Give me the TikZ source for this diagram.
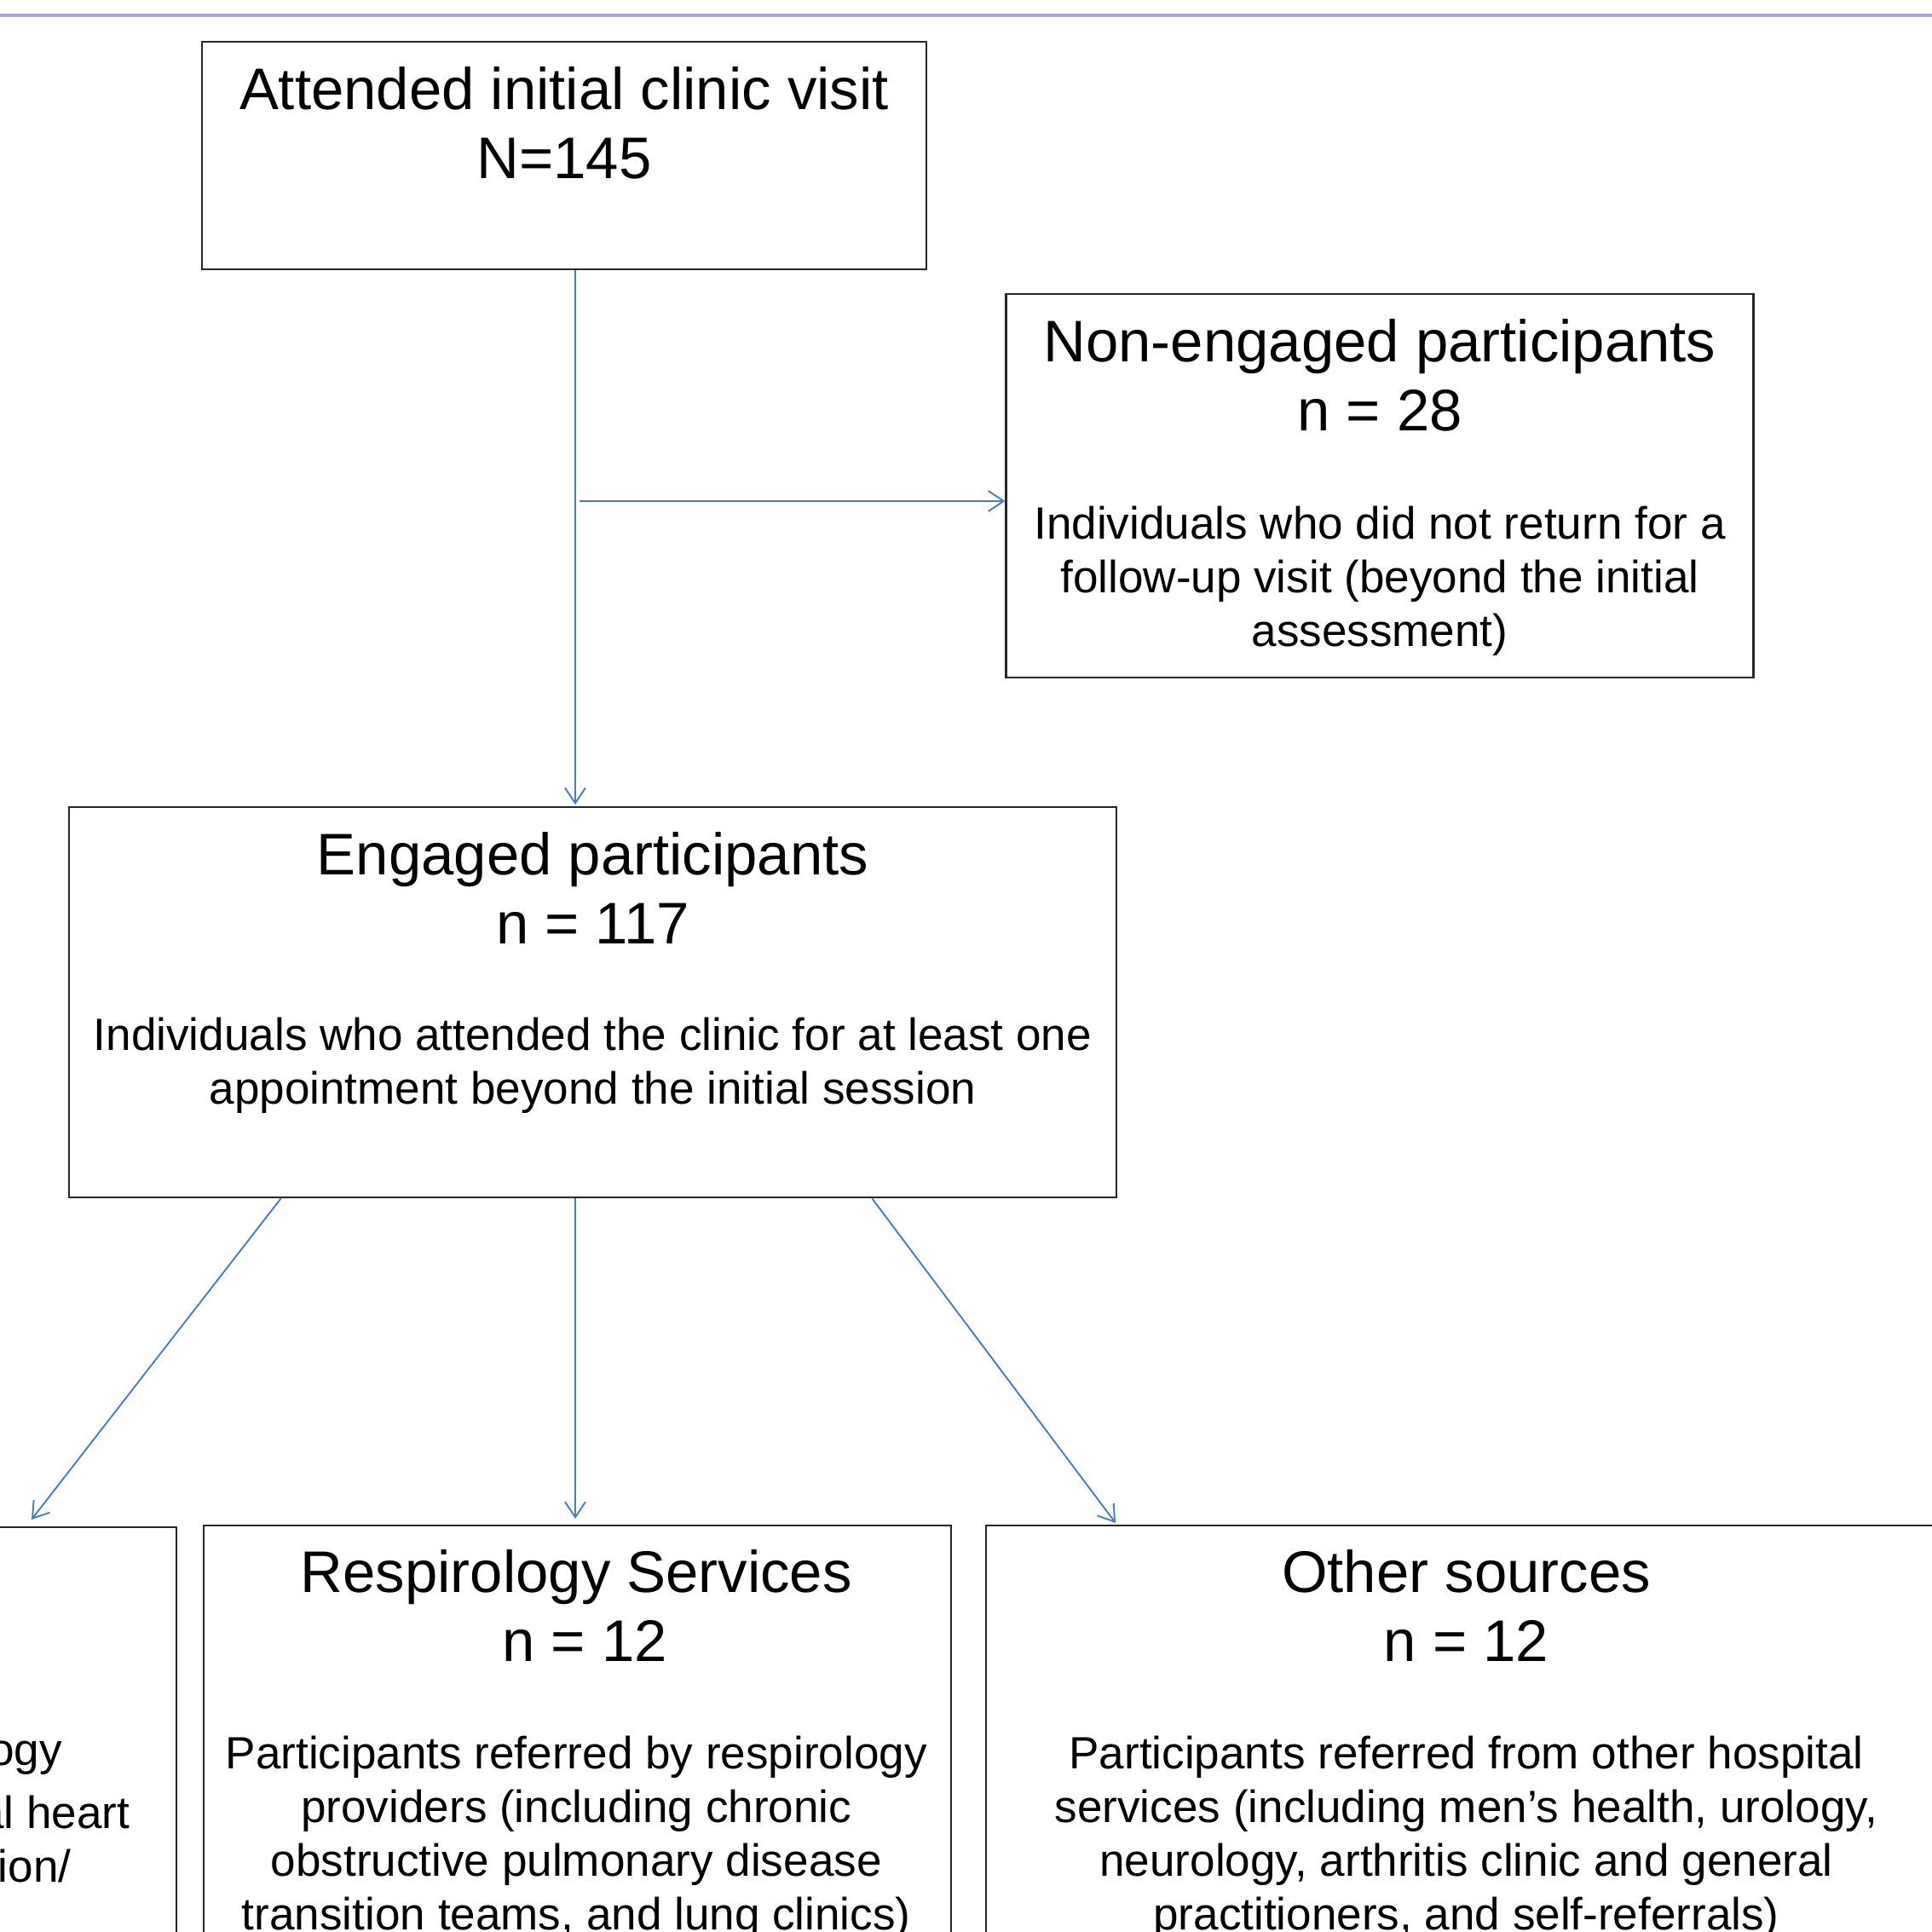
\documentclass[tikz,border=0pt]{standalone}
\usepackage{fontspec}
\setmainfont{Liberation Sans}
\usepackage{tikz}
\usetikzlibrary{positioning,arrows.meta,calc}
\definecolor{linkblue}{HTML}{4A7EBB}
\definecolor{rulepurple}{HTML}{B39DDB}

\begin{document}
\begin{tikzpicture}[
  box/.style={rectangle, draw=black!85, line width=0.6pt, inner sep=0pt},
  head/.style={align=center, inner sep=0pt, font=\fontsize{19.6}{23}\selectfont},
  body/.style={align=center, inner sep=0pt, font=\fontsize{15.1}{17.9}\selectfont},
  arrow/.style={-{Straight Barb[length=1.8mm,width=2.4mm]}, draw=linkblue, line width=0.55pt}
]
  \useasboundingbox (0,0) rectangle (22.67,-22.66);
  \clip (0,0) rectangle (22.67,-22.66);

  % rule at the top
  \draw[rulepurple, line width=0.9pt] (0,-0.18) -- (22.67,-0.18);

  % Boxes
  \node[box, minimum width=8.50cm, minimum height=2.67cm] (visit) at (6.623,-1.827) {};
  \node[box, minimum width=8.77cm, minimum height=4.50cm] (nonengaged) at (16.19,-5.697) {};
  \node[box, minimum width=12.29cm, minimum height=4.58cm] (engaged) at (6.955,-11.762) {};
  \node[box, anchor=north east, minimum width=8.77cm, minimum height=7cm] (cardio) at (2.083,-17.907) {};
  \node[box, anchor=north west, minimum width=8.77cm, minimum height=7cm] (respiro) at (2.377,-17.89) {};
  \node[box, anchor=north west, minimum width=11.28cm, minimum height=7cm] (other) at (11.563,-17.89) {};

  % Texts
  \node[head] (visitT) at (6.62,-1.445) {Attended initial clinic visit\\N=145};
  \node[head] (nonengT) at (16.19,-4.40) {Non-engaged participants\\n = 28};
  \node[body] (nonengB) at (16.19,-6.82) {Individuals who did not return for a\\follow-up visit (beyond the initial\\assessment)};
  \node[head] (engT) at (6.955,-10.42) {Engaged participants\\n = 117};
  \node[body] (engB) at (6.955,-12.505) {Individuals who attended the clinic for at least one\\appointment beyond the initial session};
  \node[body, anchor=east] (cardioA) at (0.737,-20.63) {ogy};
  \node[body, anchor=east] (cardioB) at (1.53,-21.26) {al heart};
  \node[body, anchor=east] (cardioC) at (0.84,-21.89) {ion/};
  \node[head] (respT) at (6.763,-18.84) {Respirology Services\\\hspace*{0.2cm}n = 12};
  \node[body] (respB) at (6.763,-21.56) {Participants referred by respirology\\providers (including chronic\\obstructive pulmonary disease\\transition teams, and lung clinics)};
  \node[head] (otherT) at (17.205,-18.84) {Other sources\\n = 12};
  \node[body] (otherB) at (17.205,-21.56) {Participants referred from other hospital\\services (including men’s health, urology,\\neurology, arthritis clinic and general\\practitioners, and self-referrals)};

  % Connectors
  \coordinate (split) at (6.795,-5.88);
  \coordinate (tipL) at (0.37,-17.83);
  \coordinate (tipR) at (13.09,-17.87);
  \draw[arrow] (6.75,0 |- visit.south) -- ($(6.75,0 |- engaged.north)+(0,0.02)$);
  \draw[arrow] (split) -- (split -| nonengaged.west);
  \draw[arrow] (3.296,0 |- engaged.south) -- (tipL);
  \draw[arrow] (6.75,0 |- engaged.south) -- ($(6.75,0 |- respiro.north)+(0,0.07)$);
  \draw[arrow] (10.233,0 |- engaged.south) -- (tipR);
\end{tikzpicture}
\end{document}
